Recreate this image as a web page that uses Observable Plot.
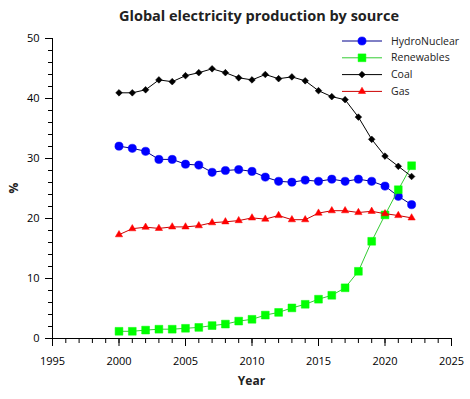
<!DOCTYPE html>
<html><head><meta charset="utf-8">
<script src="https://cdn.jsdelivr.net/npm/d3@7"></script>
<script src="https://cdn.jsdelivr.net/npm/@observablehq/plot@0.6"></script>
<style>
body{margin:0;background:#fff;}
#chart svg{font-family:"Open Sans",sans-serif;background:#fff;}
</style>
</head><body><div id="chart"></div>
<script>
const titleText = "Global electricity production by source";
const xLabel = "Year";
const yLabel = "%";
const years = [2000,2001,2002,2003,2004,2005,2006,2007,2008,2009,2010,2011,2012,2013,2014,2015,2016,2017,2018,2019,2020,2021,2022];
const hydroNuclear = [32.05,31.7,31.2,29.85,29.85,29.05,28.9,27.7,28.0,28.15,27.85,26.9,26.2,26.05,26.4,26.2,26.55,26.2,26.55,26.2,25.4,23.7,22.3];
const renewables = [1.2,1.2,1.4,1.55,1.55,1.7,1.85,2.15,2.4,2.9,3.2,3.9,4.35,5.1,5.7,6.55,7.2,8.45,11.2,16.2,20.6,24.8,28.8];
const coal = [40.95,40.95,41.45,43.1,42.8,43.8,44.3,44.95,44.3,43.45,43.1,44.0,43.3,43.6,42.95,41.3,40.3,39.8,36.9,33.2,30.4,28.7,27.0];
const gas = [17.3,18.3,18.55,18.35,18.6,18.6,18.8,19.3,19.45,19.65,20.1,19.9,20.5,19.8,19.8,20.9,21.3,21.3,21.0,21.2,20.8,20.5,20.1];
const seriesNames = ["HydroNuclear","Renewables","Coal","Gas"];
const xMajorTicks = [1995,2000,2005,2010,2015,2020,2025];
const yMajorTicks = [0,10,20,30,40,50];

const seriesValues = [hydroNuclear, renewables, coal, gas];
const styles = [
  {line:"#00008b", fill:"#0000ff", symbol:"circle", d3sym:d3.symbolCircle, r:4.1},
  {line:"#33cc33", fill:"#00ff00", symbol:"square", d3sym:d3.symbolSquare, r:4.4},
  {line:"#000000", fill:"#000000", symbol:"diamond2", d3sym:d3.symbolDiamond2, r:3.0},
  {line:"#cc0000", fill:"#ff0000", symbol:"triangle", d3sym:d3.symbolTriangle, r:2.7}
];
const series = seriesNames.map((name,k)=>({name, rows: years.map((yr,i)=>({year:yr, value:seriesValues[k][i]})), ...styles[k]}));

const marks = [
  Plot.axisY({ticks: d3.range(0,51,2), tickSize:4, tickFormat:()=>"", label:null}),
  Plot.axisY({ticks: yMajorTicks, tickSize:7, tickPadding:6, fontSize:11, label:null}),
  Plot.axisX({ticks: d3.range(1995,2026,1), tickSize:5, tickFormat:()=>"", label:null}),
  Plot.axisX({ticks: xMajorTicks, tickSize:8, tickPadding:11, tickFormat:"d", fontSize:11, label:null}),
  Plot.ruleY([0], {stroke:"#000"}),
  Plot.ruleX([1995], {stroke:"#000"})
];
for (const s of series) {
  marks.push(Plot.line(s.rows, {x:"year", y:"value", stroke:s.line, strokeWidth:1}));
  marks.push(Plot.dot(s.rows, {x:"year", y:"value", symbol:()=>s.symbol, fill:s.fill, stroke:s.fill, strokeWidth:0.5, r:s.r}));
}

const plot = Plot.plot({
  width:470, height:399,
  marginLeft:52, marginRight:19, marginTop:38, marginBottom:61,
  style:{fontFamily:"'Open Sans', sans-serif", fontSize:"11px", background:"#fff", color:"#000"},
  x:{domain:[1995,2025]},
  y:{domain:[0,50]},
  marks
});
document.getElementById("chart").append(plot);

const svg = d3.select(plot);
svg.append("text").attr("x",259).attr("y",21).attr("text-anchor","middle")
  .attr("font-size",14.5).attr("font-weight","bold").attr("fill","#222").text(titleText);
svg.append("text").attr("x",251.5).attr("y",385).attr("text-anchor","middle")
  .attr("font-size",12).attr("font-weight","bold").attr("fill","#222").text(xLabel);
svg.append("text").attr("transform","translate(18,188) rotate(-90)").attr("text-anchor","middle")
  .attr("font-size",12).attr("font-weight","bold").attr("fill","#222").text(yLabel);

const leg = svg.append("g");
series.forEach((s,i)=>{
  const y = 41 + 16.8*i;
  leg.append("line").attr("x1",342).attr("x2",382).attr("y1",y).attr("y2",y).attr("stroke",s.line).attr("stroke-width",1);
  leg.append("path").attr("transform",`translate(362,${y})`)
    .attr("d", d3.symbol(s.d3sym, Math.PI*s.r*s.r)())
    .attr("fill",s.fill).attr("stroke",s.fill).attr("stroke-width",0.5);
  leg.append("text").attr("x",391).attr("y",y).attr("dy","0.35em").attr("text-anchor","start")
    .attr("font-size",10.5).attr("fill","#222").text(s.name);
});
</script>
</body></html>
